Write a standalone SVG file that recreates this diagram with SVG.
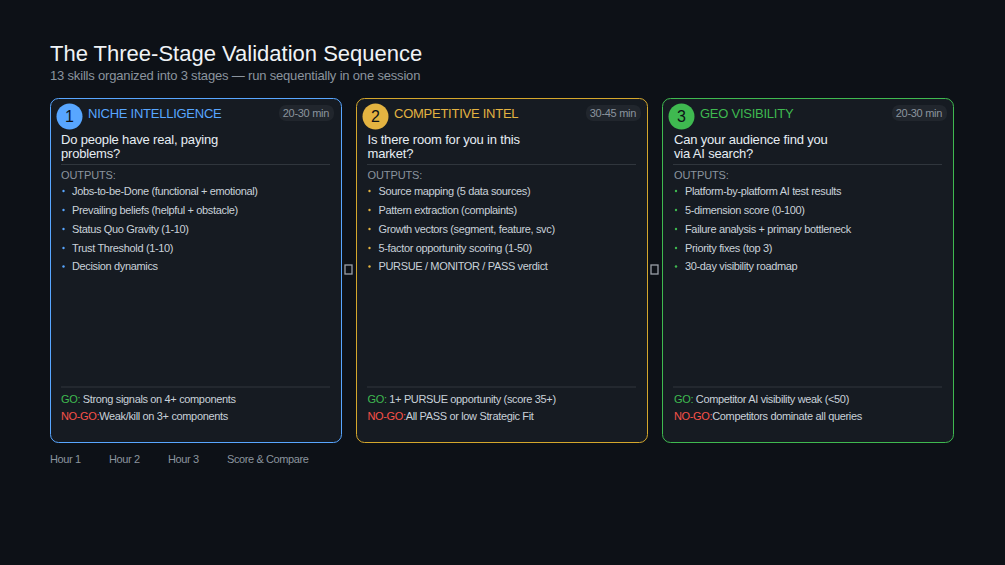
<svg xmlns="http://www.w3.org/2000/svg" width="1005" height="565" viewBox="0 0 1005 565">
<style>
text{font-family:"Liberation Sans",Arial,sans-serif}
.title{font-size:22px;fill:#f0f3f6}
.sub{font-size:13px;fill:#8b949e;letter-spacing:-0.18px}
.card{fill:#161b22;stroke-width:1}
.num{font-size:16px;fill:#0d1117;text-anchor:middle}
.stitle{font-size:13px;letter-spacing:-0.25px}
.pill{fill:#21262d}
.ptext{font-size:11px;fill:#8b949e;text-anchor:end;letter-spacing:-0.3px}
.q{font-size:13px;fill:#e6edf3;letter-spacing:-0.18px}
.sep{stroke:#30363d;stroke-width:1}
.out{font-size:11px;fill:#8b949e;letter-spacing:-0.1px}
.li{font-size:11px;fill:#c9d1d9;letter-spacing:-0.35px}
.foot{font-size:11px;fill:#8b949e;letter-spacing:-0.4px}
.go{fill:#3fb950}
.nogo{fill:#f85149}
.tofu{fill:none;stroke:#9aa0a8;stroke-width:1.3}
</style>
<rect width="1005" height="565" fill="#0d1117"/>
<g id="header">
<text class="title" x="50" y="61">The Three-Stage Validation Sequence</text>
<text class="sub" x="50" y="80">13 skills organized into 3 stages — run sequentially in one session</text>
</g>
<g id="stage1">
<rect class="card" x="50.5" y="98.5" width="291" height="344" rx="8" stroke="#58a6ff"/>
<circle cx="69.5" cy="116.5" r="13" fill="#58a6ff"/>
<text class="num" x="69.5" y="122">1</text>
<text class="stitle" x="88" y="118" fill="#58a6ff">NICHE INTELLIGENCE</text>
<rect class="pill" x="279" y="105" width="55" height="16" rx="7"/>
<text class="ptext" x="329" y="117">20-30 min</text>
<text class="q" x="61" y="144">Do people have real, paying</text>
<text class="q" x="61" y="158">problems?</text>
<line class="sep" x1="61" y1="164.5" x2="330" y2="164.5"/>
<text class="out" x="61" y="178.5">OUTPUTS:</text>
<g fill="#58a6ff"><circle cx="63.5" cy="191" r="1.2"/><circle cx="63.5" cy="210" r="1.2"/><circle cx="63.5" cy="229" r="1.2"/><circle cx="63.5" cy="248" r="1.2"/><circle cx="63.5" cy="266.5" r="1.2"/></g>
<text class="li" x="72" y="195">Jobs-to-be-Done (functional + emotional)</text>
<text class="li" x="72" y="214">Prevailing beliefs (helpful + obstacle)</text>
<text class="li" x="72" y="232.7">Status Quo Gravity (1-10)</text>
<text class="li" x="72" y="251.7">Trust Threshold (1-10)</text>
<text class="li" x="72" y="270.3">Decision dynamics</text>
<line class="sep" x1="61" y1="387" x2="330" y2="387"/>
<text class="li" x="61" y="403.3"><tspan class="go">GO:</tspan> Strong signals on 4+ components</text>
<text class="li" x="61" y="420"><tspan class="nogo">NO-GO:</tspan>Weak/kill on 3+ components</text>
</g>
<g id="stage2">
<rect class="card" x="356.5" y="98.5" width="291" height="344" rx="8" stroke="#d4a72c"/>
<circle cx="375.5" cy="116.5" r="13" fill="#e3b341"/>
<text class="num" x="375.5" y="122">2</text>
<text class="stitle" x="394" y="118" fill="#e3b341">COMPETITIVE INTEL</text>
<rect class="pill" x="586" y="105" width="55" height="16" rx="7"/>
<text class="ptext" x="636" y="117">30-45 min</text>
<text class="q" x="367.5" y="144">Is there room for you in this</text>
<text class="q" x="367.5" y="158">market?</text>
<line class="sep" x1="367" y1="164.5" x2="636" y2="164.5"/>
<text class="out" x="367.5" y="178.5">OUTPUTS:</text>
<g fill="#e3b341"><circle cx="369.5" cy="191" r="1.2"/><circle cx="369.5" cy="210" r="1.2"/><circle cx="369.5" cy="229" r="1.2"/><circle cx="369.5" cy="248" r="1.2"/><circle cx="369.5" cy="266.5" r="1.2"/></g>
<text class="li" x="378.5" y="195">Source mapping (5 data sources)</text>
<text class="li" x="378.5" y="214">Pattern extraction (complaints)</text>
<text class="li" x="378.5" y="232.7">Growth vectors (segment, feature, svc)</text>
<text class="li" x="378.5" y="251.7">5-factor opportunity scoring (1-50)</text>
<text class="li" x="378.5" y="270.3">PURSUE / MONITOR / PASS verdict</text>
<line class="sep" x1="367" y1="387" x2="636" y2="387"/>
<text class="li" x="367.5" y="403.3"><tspan class="go">GO:</tspan> 1+ PURSUE opportunity (score 35+)</text>
<text class="li" x="367.5" y="420"><tspan class="nogo">NO-GO:</tspan>All PASS or low Strategic Fit</text>
</g>
<g id="stage3">
<rect class="card" x="662.5" y="98.5" width="291" height="344" rx="8" stroke="#3fb950"/>
<circle cx="681.5" cy="116.5" r="13" fill="#3fb950"/>
<text class="num" x="681.5" y="122">3</text>
<text class="stitle" x="700" y="118" fill="#3fb950">GEO VISIBILITY</text>
<rect class="pill" x="892" y="105" width="55" height="16" rx="7"/>
<text class="ptext" x="942" y="117">20-30 min</text>
<text class="q" x="674" y="144">Can your audience find you</text>
<text class="q" x="674" y="158">via AI search?</text>
<line class="sep" x1="673" y1="164.5" x2="942" y2="164.5"/>
<text class="out" x="674" y="178.5">OUTPUTS:</text>
<g fill="#3fb950"><circle cx="676" cy="191" r="1.2"/><circle cx="676" cy="210" r="1.2"/><circle cx="676" cy="229" r="1.2"/><circle cx="676" cy="248" r="1.2"/><circle cx="676" cy="266.5" r="1.2"/></g>
<text class="li" x="685" y="195">Platform-by-platform AI test results</text>
<text class="li" x="685" y="214">5-dimension score (0-100)</text>
<text class="li" x="685" y="232.7">Failure analysis + primary bottleneck</text>
<text class="li" x="685" y="251.7">Priority fixes (top 3)</text>
<text class="li" x="685" y="270.3">30-day visibility roadmap</text>
<line class="sep" x1="673" y1="387" x2="942" y2="387"/>
<text class="li" x="674" y="403.3"><tspan class="go">GO:</tspan> Competitor AI visibility weak (&lt;50)</text>
<text class="li" x="674" y="420"><tspan class="nogo">NO-GO:</tspan>Competitors dominate all queries</text>
</g>
<g id="connectors">
<rect class="tofu" x="345" y="265" width="7" height="9"/>
<rect class="tofu" x="651" y="265" width="7" height="9"/>
</g>
<g id="footer">
<text class="foot" x="50" y="462.7">Hour 1</text>
<text class="foot" x="109" y="462.7">Hour 2</text>
<text class="foot" x="168" y="462.7">Hour 3</text>
<text class="foot" x="227" y="462.7">Score &amp; Compare</text>
</g>
</svg>
